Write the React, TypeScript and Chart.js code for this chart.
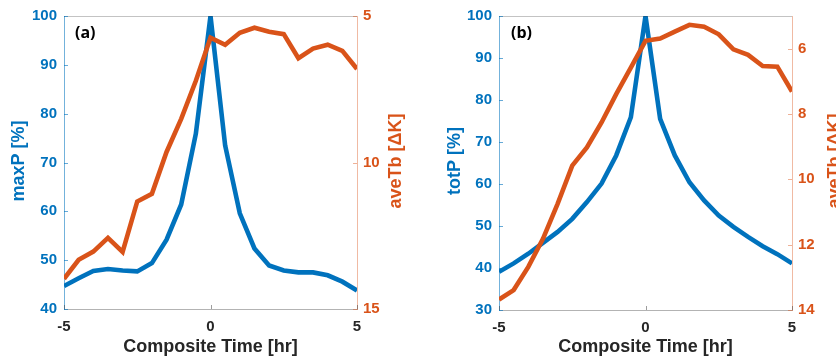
import React, { useEffect, useRef } from 'react';
import { Chart, registerables } from 'chart.js';

Chart.register(...registerables);

// ---- data ----
const times = [-5, -4.5, -4, -3.5, -3, -2.5, -2, -1.5, -1, -0.5, 0, 0.5, 1, 1.5, 2, 2.5, 3, 3.5, 4, 4.5, 5];
const maxP = [44.7, 46.3, 47.8, 48.2, 47.9, 47.7, 49.4, 54.2, 61.4, 75.9, 100, 73.5, 59.6, 52.4, 48.9, 47.9, 47.5, 47.5, 46.9, 45.6, 43.8];
const aveTbA = [13.97, 13.32, 13.04, 12.57, 13.05, 11.33, 11.07, 9.64, 8.51, 7.21, 5.74, 5.98, 5.57, 5.4, 5.54, 5.62, 6.44, 6.11, 5.98, 6.19, 6.81];
const totP = [39.1, 41.1, 43.4, 46.0, 48.6, 51.7, 55.7, 60.1, 66.8, 75.9, 100, 75.5, 66.8, 60.4, 56.1, 52.5, 49.8, 47.4, 45.2, 43.3, 41.1];
const aveTbB = [13.68, 13.39, 12.68, 11.82, 10.75, 9.58, 9.02, 8.26, 7.39, 6.58, 5.76, 5.69, 5.48, 5.27, 5.33, 5.56, 6.02, 6.19, 6.53, 6.55, 7.31];

const xTicks = [-5, 0, 5];
const leftTicksA = [40, 50, 60, 70, 80, 90, 100];
const rightTicksA = [5, 10, 15];
const leftTicksB = [30, 40, 50, 60, 70, 80, 90, 100];
const rightTicksB = [6, 8, 10, 12, 14];

const xTitle = 'Composite Time [hr]';
const leftTitleA = 'maxP [%]';
const leftTitleB = 'totP [%]';
const rightTitle = 'aveTb [\u0394K]';
const labelA = '(a)';
const labelB = '(b)';

// ---- styles ----
const BLUE = '#0072BD';
const ORANGE = '#D95319';
const DARK = '#262626';
const FONT = "'Liberation Sans', Arial, Helvetica, sans-serif";

const decoPlugin = {
  id: 'deco',
  afterDraw(chart: any, _args: any, opts: any) {
    const ctx = chart.ctx;
    const { left, right, top, bottom } = chart.chartArea;
    ctx.save();
    // top box line
    ctx.strokeStyle = 'rgba(38,38,38,0.28)';
    ctx.lineWidth = 1;
    ctx.beginPath();
    ctx.moveTo(left, top + 0.5);
    ctx.lineTo(right, top + 0.5);
    ctx.stroke();
    // inward ticks
    const tl = 4;
    const yl = chart.scales.yL;
    const yr = chart.scales.yR;
    const xs = chart.scales.x;
    ctx.strokeStyle = 'rgba(0,114,189,0.6)';
    ctx.beginPath();
    yl.ticks.forEach((t: any) => {
      const p = Math.round(yl.getPixelForValue(t.value)) + 0.5;
      ctx.moveTo(left, p);
      ctx.lineTo(left + tl, p);
    });
    ctx.stroke();
    ctx.strokeStyle = 'rgba(217,83,25,0.45)';
    ctx.beginPath();
    yr.ticks.forEach((t: any) => {
      const p = Math.round(yr.getPixelForValue(t.value)) + 0.5;
      ctx.moveTo(right, p);
      ctx.lineTo(right - tl, p);
    });
    ctx.stroke();
    ctx.strokeStyle = 'rgba(38,38,38,0.45)';
    ctx.beginPath();
    xs.ticks.forEach((t: any) => {
      const p = Math.round(xs.getPixelForValue(t.value)) + 0.5;
      ctx.moveTo(p, bottom);
      ctx.lineTo(p, bottom - tl);
    });
    ctx.stroke();

    // rotated axis titles
    ctx.font = `bold 18px ${FONT}`;
    ctx.textAlign = 'center';
    ctx.textBaseline = 'middle';
    const rot = (text: string, x: number, y: number, color: string) => {
      ctx.save();
      ctx.translate(x, y);
      ctx.rotate(-Math.PI / 2);
      ctx.fillStyle = color;
      ctx.fillText(text, 0, 0);
      ctx.restore();
    };
    rot(opts.leftTitle, opts.leftTitleX, opts.titleY, BLUE);
    rot(opts.rightTitle, opts.rightTitleX, opts.titleY, ORANGE);

    // panel label
    ctx.font = `bold 16px 'Open Sans', ${FONT}`;
    ctx.fillStyle = '#000';
    ctx.textAlign = 'left';
    ctx.fillText(opts.label, opts.labelX, opts.labelY);
    ctx.restore();
  },
};

function makeConfig(p: any) {
  const tickFont = { family: FONT, weight: 'bold' as const, size: 15 };
  return {
    type: 'line' as const,
    data: {
      labels: times,
      datasets: [
        {
          data: times.map((t, i) => ({ x: t, y: p.left[i] })),
          borderColor: BLUE,
          borderWidth: 4.6,
          pointRadius: 0,
          tension: 0,
          yAxisID: 'yL',
          clip: 0,
          order: 2,
        },
        {
          data: times.map((t, i) => ({ x: t, y: p.right[i] })),
          borderColor: ORANGE,
          borderWidth: 4.6,
          pointRadius: 0,
          tension: 0,
          yAxisID: 'yR',
          clip: 0,
          order: 1,
        },
      ],
    },
    options: {
      responsive: false,
      animation: false as const,
      devicePixelRatio: 1,
      layout: { padding: { top: 15, left: 0, right: 0, bottom: 0 } },
      plugins: {
        legend: { display: false },
        tooltip: { enabled: false },
        deco: {
          leftTitle: p.leftTitle,
          rightTitle: rightTitle,
          leftTitleX: p.leftTitleX,
          rightTitleX: p.rightTitleX,
          titleY: 161,
          label: p.label,
          labelX: p.labelX,
          labelY: 33,
        },
      },
      scales: {
        x: {
          type: 'linear' as const,
          min: -5,
          max: 5,
          afterBuildTicks: (s: any) => {
            s.ticks = xTicks.map((v) => ({ value: v }));
          },
          afterFit: (s: any) => {
            s.height = 358 - 15 - p.plotH;
          },
          grid: { display: true, drawOnChartArea: false, drawTicks: false },
          border: { display: true, color: 'rgba(38,38,38,0.35)', width: 1 },
          ticks: { color: DARK, font: tickFont, padding: 9, maxRotation: 0 },
          title: {
            display: true,
            text: xTitle,
            color: DARK,
            font: { family: FONT, weight: 'bold' as const, size: 18 },
            padding: 0,
          },
        },
        yL: {
          type: 'linear' as const,
          position: 'left' as const,
          min: p.leftMin,
          max: 100,
          afterBuildTicks: (s: any) => {
            s.ticks = p.leftTicks.map((v: number) => ({ value: v }));
          },
          afterFit: (s: any) => {
            s.width = p.leftW;
          },
          grid: { display: true, drawOnChartArea: false, drawTicks: false },
          border: { display: true, color: 'rgba(0,114,189,0.55)', width: 1 },
          ticks: { color: BLUE, font: tickFont, padding: 7 },
        },
        yR: {
          type: 'linear' as const,
          position: 'right' as const,
          reverse: true,
          min: 5,
          max: p.rightMax,
          afterBuildTicks: (s: any) => {
            s.ticks = p.rightTicks.map((v: number) => ({ value: v }));
          },
          afterFit: (s: any) => {
            s.width = p.rightW;
          },
          grid: { display: true, drawOnChartArea: false, drawTicks: false },
          border: { display: true, color: 'rgba(217,83,25,0.4)', width: 1 },
          ticks: { color: ORANGE, font: tickFont, padding: 6 },
        },
      },
    },
    plugins: [decoPlugin],
  };
}

export default function App() {
  const refA = useRef<HTMLCanvasElement>(null);
  const refB = useRef<HTMLCanvasElement>(null);

  useEffect(() => {
    const a = new Chart(
      refA.current as HTMLCanvasElement,
      makeConfig({
        left: maxP,
        right: aveTbA,
        leftMin: 40,
        rightMax: 15,
        leftTicks: leftTicksA,
        rightTicks: rightTicksA,
        leftW: 64,
        rightW: 61,
        plotH: 294,
        leftTitle: leftTitleA,
        leftTitleX: 19,
        rightTitleX: 396,
        label: labelA,
        labelX: 75,
      }) as any
    );
    const b = new Chart(
      refB.current as HTMLCanvasElement,
      makeConfig({
        left: totP,
        right: aveTbB,
        leftMin: 30,
        rightMax: 14,
        leftTicks: leftTicksB,
        rightTicks: rightTicksB,
        leftW: 81,
        rightW: 44,
        plotH: 295,
        leftTitle: leftTitleB,
        leftTitleX: 37,
        rightTitleX: 417,
        label: labelB,
        labelX: 93,
      }) as any
    );
    return () => {
      a.destroy();
      b.destroy();
    };
  }, []);

  return (
    <div
      style={{
        position: 'absolute',
        left: 0,
        top: 0,
        width: 836,
        height: 358,
        overflow: 'hidden',
        background: '#fff',
      }}
    >
      <canvas ref={refA} width={418} height={358} style={{ position: 'absolute', left: 0, top: 0 }} />
      <canvas ref={refB} width={418} height={358} style={{ position: 'absolute', left: 418, top: 0 }} />
    </div>
  );
}
